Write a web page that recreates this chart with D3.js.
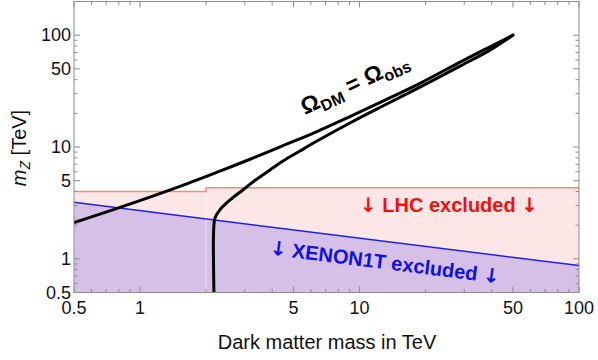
<!DOCTYPE html>
<html>
<head>
<meta charset="utf-8">
<script src="https://cdn.jsdelivr.net/npm/d3@7"></script>
<style>
  html, body { margin: 0; padding: 0; background: #fff; }
  svg { display: block; }
  text { font-family: "Liberation Sans", Arial, Helvetica, sans-serif; }
  .arrow { font-family: "DejaVu Sans", sans-serif; }
</style>
</head>
<body>
<svg id="chart" width="598" height="360"></svg>
<script>
// Tick values (TeV) for both axes
const majorTicks = [0.5, 1, 5, 10, 50, 100];
const minorTicks = [0.6, 0.7, 0.8, 0.9, 2, 3, 4, 6, 7, 8, 9, 20, 30, 40, 60, 70, 80, 90];
const tickLabels = ["0.5", "1", "5", "10", "50", "100"];

// LHC exclusion bound on m_Z' (step at 2 TeV)
const lhcMass  = [0.5, 2, 2, 100];
const lhcLimit = [4.0, 4.0, 4.33, 4.33];

// XENON1T exclusion bound
const xenonMass  = [0.5, 100];
const xenonLimit = [3.2, 0.87];

// Relic density contour Omega_DM = Omega_obs, upper branch
const relicUpperMass = [0.5, 0.75, 1.52, 2.31, 3.17, 4.48, 6.4, 9.04, 12.5, 18.85, 28.7, 38.5, 50];
const relicUpperMz   = [2.11, 2.74, 4.45, 6.08, 7.77, 10.27, 13.75, 18.7, 25.2, 37.1, 57.4, 77.1, 100];

// Relic density contour, lower branch (from the bottom edge up to the tip)
const relicLowerMass = [2.17, 2.16, 2.16, 2.195, 2.31, 2.57, 2.94, 3.41, 3.91, 4.48, 5.35, 6.4, 9.04, 12.5, 18.85, 28.7, 39.3, 50];
const relicLowerMz   = [0.5, 1.0, 1.6, 2.32, 2.74, 3.36, 4.13, 5.18, 6.23, 7.5, 9.21, 11.3, 16.4, 22.8, 34.3, 52.9, 73.5, 100];

const svg = d3.select("#chart");
const L = 74, R = 579, T = 1.5, B = 292.5;

const x = d3.scaleLog().domain([0.5, 100]).range([L, R]);
const y = d3.scaleLog().domain([0.5, 200]).range([B, T]);

const zip = (a, b) => a.map((v, i) => [v, b[i]]);

svg.append("clipPath").attr("id", "plotclip")
  .append("rect").attr("x", L).attr("y", T).attr("width", R - L).attr("height", B - T);

const plot = svg.append("g").attr("clip-path", "url(#plotclip)");

// excluded regions: filled from each bound down to the bottom of the plot
const belowArea = d3.area()
  .x(d => x(d[0])).y0(y(0.5)).y1(d => y(d[1]));

plot.append("path")
  .datum(zip(lhcMass, lhcLimit))
  .attr("d", belowArea)
  .attr("fill", "#fde6e6");

plot.append("path")
  .datum(zip(xenonMass, xenonLimit))
  .attr("d", belowArea)
  .attr("fill", "#d6c0e7");

// faint seam where the LHC bound steps
plot.append("line")
  .attr("x1", x(2)).attr("x2", x(2))
  .attr("y1", y(lhcLimit[1])).attr("y2", y(0.5))
  .attr("stroke", "#ffffff").attr("stroke-opacity", 0.55).attr("stroke-width", 1);

const line = d3.line().x(d => x(d[0])).y(d => y(d[1]));

plot.append("path")
  .datum(zip(lhcMass, lhcLimit))
  .attr("d", line)
  .attr("fill", "none").attr("stroke", "#f28a8a").attr("stroke-width", 1.5);

plot.append("path")
  .datum(zip(xenonMass, xenonLimit))
  .attr("d", line)
  .attr("fill", "none").attr("stroke", "#2020e0").attr("stroke-width", 1.5);

// relic contour
const smooth = d3.line().x(d => x(d[0])).y(d => y(d[1])).curve(d3.curveCatmullRom.alpha(0.5));
[zip(relicUpperMass, relicUpperMz), zip(relicLowerMass, relicLowerMz)].forEach(pts => {
  plot.append("path")
    .datum(pts)
    .attr("d", smooth)
    .attr("fill", "none")
    .attr("stroke", "#000")
    .attr("stroke-width", 3)
    .attr("stroke-linecap", "round")
    .attr("stroke-linejoin", "round");
});

// frame
svg.append("rect")
  .attr("x", L).attr("y", T).attr("width", R - L).attr("height", B - T)
  .attr("fill", "none").attr("stroke", "#8c8c8c").attr("stroke-width", 1);

// inward ticks on all four sides
const ticks = svg.append("g").attr("stroke", "#8c8c8c").attr("stroke-width", 1);
function drawTicks(values, len) {
  values.forEach(v => {
    const px = x(v), py = y(v);
    ticks.append("line").attr("x1", px).attr("x2", px).attr("y1", B).attr("y2", B - len);
    ticks.append("line").attr("x1", px).attr("x2", px).attr("y1", T).attr("y2", T + len);
    ticks.append("line").attr("x1", L).attr("x2", L + len).attr("y1", py).attr("y2", py);
    ticks.append("line").attr("x1", R).attr("x2", R - len).attr("y1", py).attr("y2", py);
  });
}
drawTicks(majorTicks, 6);
drawTicks(minorTicks, 3.5);

// tick labels
const labelSize = 18;
svg.append("g").selectAll("text")
  .data(majorTicks)
  .join("text")
  .attr("x", L - 3)
  .attr("y", d => y(d))
  .attr("dy", "0.34em")
  .attr("text-anchor", "end")
  .attr("font-size", labelSize)
  .attr("fill", "#111")
  .text((d, i) => tickLabels[i]);

svg.append("g").selectAll("text")
  .data(majorTicks)
  .join("text")
  .attr("x", d => x(d))
  .attr("y", 314)
  .attr("text-anchor", "middle")
  .attr("font-size", labelSize)
  .attr("fill", "#111")
  .text((d, i) => tickLabels[i]);

// axis titles
svg.append("text")
  .attr("x", 327).attr("y", 349)
  .attr("text-anchor", "middle")
  .attr("font-size", 20)
  .attr("fill", "#111")
  .text("Dark matter mass in TeV");

const yt = svg.append("text")
  .attr("transform", "translate(26,148) rotate(-90)")
  .attr("text-anchor", "middle")
  .attr("font-size", 20)
  .attr("fill", "#111");
yt.append("tspan").attr("font-style", "italic").text("m");
yt.append("tspan").attr("font-style", "italic").attr("font-size", 14).attr("dy", 4).text("Z");
yt.append("tspan").attr("dy", -4).text(" [TeV]");

// relic label along the contour
const om = svg.append("text")
  .attr("transform", "translate(305,115) rotate(-25)")
  .attr("font-weight", "bold")
  .attr("font-size", 23)
  .attr("fill", "#000");
om.append("tspan").text("Ω");
om.append("tspan").attr("font-size", 16).attr("dy", 5).text("DM");
om.append("tspan").attr("dy", -5).text(" = Ω");
om.append("tspan").attr("font-size", 16).attr("dy", 5).text("obs");

// region labels
const lhcText = svg.append("text")
  .attr("x", 449).attr("y", 212)
  .attr("text-anchor", "middle")
  .attr("font-weight", "bold")
  .attr("font-size", 20)
  .attr("fill", "#f01010");
lhcText.append("tspan").attr("class", "arrow").text("↓");
lhcText.append("tspan").text(" LHC excluded ");
lhcText.append("tspan").attr("class", "arrow").text("↓");

const xeText = svg.append("text")
  .attr("transform", "translate(384,269) rotate(7.2)")
  .attr("text-anchor", "middle")
  .attr("font-weight", "bold")
  .attr("font-size", 20)
  .attr("fill", "#1010e0");
xeText.append("tspan").attr("class", "arrow").text("↓");
xeText.append("tspan").text(" XENON1T excluded ");
xeText.append("tspan").attr("class", "arrow").text("↓");
</script>
</body>
</html>
